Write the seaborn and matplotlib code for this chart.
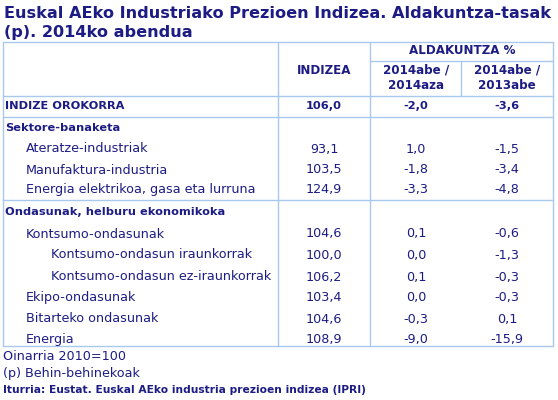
import matplotlib
matplotlib.use("Agg")
import matplotlib.pyplot as plt
import seaborn as sns

sns.set_style("white")
plt.rcParams['font.family'] = ['DejaVu Sans']

labels = ["INDIZE OROKORRA", "Sektore-banaketa", "Ateratze-industriak", "Manufaktura-industria",
          "Energia elektrikoa, gasa eta lurruna", "Ondasunak, helburu ekonomikoka",
          "Kontsumo-ondasunak", "Kontsumo-ondasun iraunkorrak", "Kontsumo-ondasun ez-iraunkorrak",
          "Ekipo-ondasunak", "Bitarteko ondasunak", "Energia"]
levels = [0, 0, 1, 1, 1, 0, 1, 2, 2, 1, 1, 1]
bold = [True, True, False, False, False, True, False, False, False, False, False, False]
indizea = ["106,0", "", "93,1", "103,5", "124,9", "", "104,6", "100,0", "106,2", "103,4", "104,6", "108,9"]
month = ["-2,0", "", "1,0", "-1,8", "-3,3", "", "0,1", "0,0", "0,1", "0,0", "-0,3", "-9,0"]
year = ["-3,6", "", "-1,5", "-3,4", "-4,8", "", "-0,6", "-1,3", "-0,3", "-0,3", "0,1", "-15,9"]
row_y = [106, 128, 149, 170, 190, 212, 234, 255, 277, 298, 319, 340]

navy = "#1c1c84"
line = "#a9c9ec"
fig = plt.figure(figsize=(5.58, 4.0), dpi=100)
ax = fig.add_axes([0, 0, 1, 1])
ax.set_xlim(0, 558); ax.set_ylim(400, 0); ax.axis("off")

ax.text(4, 13, "Euskal AEko Industriako Prezioen Indizea. Aldakuntza-tasak", fontsize=11.6,
        fontweight="bold", color=navy, va="center")
ax.text(4, 32, "(p). 2014ko abendua", fontsize=11.6, fontweight="bold", color=navy, va="center")

lw = 1
for x in [3, 278, 370, 553]:
    ax.plot([x, x], [42, 346], color=line, lw=lw)
ax.plot([461, 461], [61, 96], color=line, lw=lw)
for y in [42, 96, 117, 200, 346]:
    ax.plot([3, 553], [y, y], color=line, lw=lw)
ax.plot([370, 553], [61, 61], color=line, lw=lw)

hfs = 8.6
ax.text(324, 70, "INDIZEA", fontsize=hfs, fontweight="bold", color=navy, ha="center", va="center")
ax.text(462, 51, "ALDAKUNTZA %", fontsize=hfs, fontweight="bold", color=navy, ha="center", va="center")
ax.text(416, 78, "2014abe /\n2014aza", fontsize=hfs, fontweight="bold", color=navy, ha="center",
        va="center", linespacing=1.25)
ax.text(507, 78, "2014abe /\n2013abe", fontsize=hfs, fontweight="bold", color=navy, ha="center",
        va="center", linespacing=1.25)

fs = 9.2
bfs = 8.2
for lab, lev, b, iv, m, yv, y in zip(labels, levels, bold, indizea, month, year, row_y):
    w = "bold" if b else "normal"
    s = bfs if b else fs
    ax.text(5 + 21 * lev + (4 if lev == 2 else 0), y, lab, fontsize=s, fontweight=w, color=navy, va="center")
    ax.text(324, y, iv, fontsize=s, fontweight=w, color=navy, ha="center", va="center")
    ax.text(416, y, m, fontsize=s, fontweight=w, color=navy, ha="center", va="center")
    ax.text(507, y, yv, fontsize=s, fontweight=w, color=navy, ha="center", va="center")

ax.text(3, 356, "Oinarria 2010=100", fontsize=fs, color=navy, va="center")
ax.text(3, 373, "(p) Behin-behinekoak", fontsize=fs, color=navy, va="center")
ax.text(3, 390, "Iturria: Eustat. Euskal AEko industria prezioen indizea (IPRI)", fontsize=7.7,
        fontweight="bold", color=navy, va="center")

fig.savefig("out.png", dpi=100)
